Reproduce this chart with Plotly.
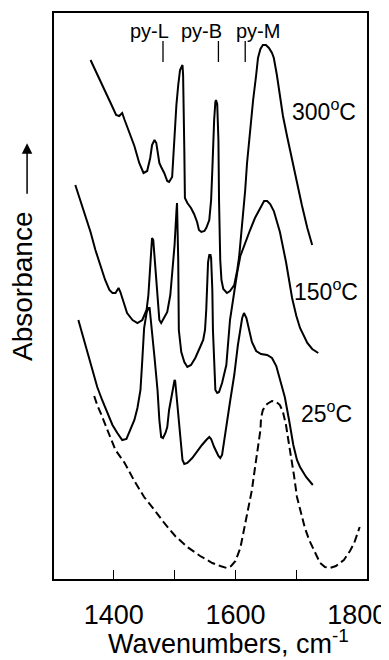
import plotly.graph_objects as go

# ---- data (wavenumber in cm-1, absorbance in arbitrary offset units) ----
wn_300 = [1362, 1373, 1385, 1395, 1404, 1409, 1414, 1418, 1426, 1434, 1442, 1449, 1455, 1460, 1463,
          1467, 1470, 1472, 1475, 1478, 1483, 1488, 1491, 1496, 1500, 1503, 1506, 1509, 1513, 1514,
          1516, 1517, 1521, 1527, 1532, 1537, 1540, 1544, 1549, 1552, 1557, 1560, 1562, 1563, 1565,
          1567, 1568, 1570, 1572, 1573, 1575, 1577, 1580, 1586, 1591, 1598, 1603, 1606, 1611, 1616,
          1619, 1624, 1629, 1634, 1637, 1641, 1645, 1650, 1655, 1660, 1663, 1668, 1673, 1678, 1685,
          1693, 1701, 1709, 1718, 1726]
ab_300 = [5.19, 5.04, 4.89, 4.76, 4.64, 4.63, 4.66, 4.59, 4.46, 4.33, 4.16, 4.06, 4.08, 4.21, 4.34,
          4.39, 4.36, 4.29, 4.16, 4.12, 4.06, 3.98, 3.97, 4.02, 4.44, 4.74, 4.94, 5.09, 5.14, 5.04,
          4.29, 3.81, 3.76, 3.71, 3.65, 3.57, 3.49, 3.47, 3.48, 3.51, 3.59, 3.79, 4.09, 4.34, 4.59,
          4.77, 4.79, 4.75, 4.39, 3.79, 3.19, 2.99, 2.90, 2.86, 2.88, 2.94, 3.09, 3.22, 3.54, 3.89,
          4.16, 4.49, 4.79, 5.04, 5.21, 5.30, 5.34, 5.34, 5.31, 5.26, 5.21, 5.04, 4.83, 4.63, 4.42,
          4.19, 3.97, 3.74, 3.51, 3.34]

wn_150 = [1337, 1345, 1354, 1362, 1370, 1378, 1386, 1393, 1398, 1403, 1408, 1411, 1416, 1422, 1431,
          1439, 1447, 1454, 1457, 1460, 1463, 1465, 1468, 1472, 1475, 1478, 1483, 1488, 1493, 1496,
          1500, 1503, 1504, 1506, 1507, 1511, 1516, 1521, 1527, 1534, 1539, 1542, 1547, 1550, 1552,
          1554, 1555, 1557, 1559, 1560, 1562, 1563, 1565, 1567, 1570, 1573, 1578, 1585, 1591, 1598,
          1603, 1608, 1616, 1624, 1632, 1641, 1647, 1652, 1657, 1663, 1673, 1683, 1693, 1700, 1706,
          1718, 1726, 1736]
ab_150 = [3.94, 3.79, 3.64, 3.47, 3.29, 3.14, 2.99, 2.89, 2.86, 2.86, 2.91, 2.87, 2.77, 2.66, 2.59,
          2.56, 2.59, 2.69, 2.84, 3.19, 3.41, 3.39, 3.14, 2.79, 2.59, 2.56, 2.61, 2.67, 2.84, 3.04,
          3.34, 3.67, 3.76, 3.19, 2.49, 2.27, 2.17, 2.12, 2.14, 2.21, 2.27, 2.32, 2.39, 2.49, 2.69,
          2.99, 3.17, 3.24, 3.24, 3.21, 2.89, 2.49, 2.09, 1.89, 1.86, 1.87, 1.96, 2.14, 2.59, 2.89,
          3.07, 3.23, 3.37, 3.49, 3.61, 3.72, 3.78, 3.78, 3.75, 3.68, 3.47, 3.17, 2.81, 2.63, 2.51,
          2.36, 2.30, 2.26]

wn_25 = [1342, 1349, 1357, 1365, 1373, 1381, 1390, 1398, 1406, 1414, 1421, 1427, 1434, 1439, 1444,
         1447, 1450, 1454, 1457, 1459, 1462, 1467, 1472, 1475, 1478, 1481, 1485, 1488, 1491, 1495,
         1498, 1500, 1501, 1504, 1508, 1511, 1513, 1516, 1521, 1529, 1537, 1545, 1552, 1557, 1560,
         1565, 1572, 1575, 1578, 1582, 1585, 1591, 1598, 1604, 1611, 1614, 1618, 1622, 1627, 1634,
         1642, 1652, 1660, 1667, 1673, 1681, 1688, 1695, 1701, 1706, 1716, 1727]
ab_25 = [2.59, 2.44, 2.26, 2.09, 1.92, 1.79, 1.66, 1.54, 1.46, 1.39, 1.40, 1.49, 1.59, 1.71, 1.89,
         2.19, 2.51, 2.66, 2.71, 2.71, 2.54, 2.22, 1.89, 1.59, 1.42, 1.41, 1.46, 1.52, 1.69, 1.84,
         1.96, 1.99, 1.98, 1.79, 1.54, 1.34, 1.19, 1.15, 1.16, 1.21, 1.28, 1.34, 1.39, 1.42, 1.40,
         1.32, 1.23, 1.21, 1.24, 1.39, 1.54, 1.77, 2.04, 2.34, 2.61, 2.66, 2.61, 2.49, 2.37, 2.28,
         2.25, 2.24, 2.21, 2.13, 1.99, 1.82, 1.59, 1.34, 1.19, 1.12, 1.02, 0.94]

wn_ref = [1368, 1373, 1380, 1386, 1393, 1403, 1418, 1434, 1450, 1467, 1483, 1501, 1521, 1542, 1562,
          1575, 1586, 1593, 1600, 1608, 1614, 1621, 1627, 1632, 1636, 1641, 1642, 1645, 1652, 1660,
          1667, 1673, 1678, 1683, 1686, 1691, 1696, 1701, 1706, 1714, 1721, 1731, 1739, 1747, 1755,
          1765, 1778, 1788, 1795, 1804]
ab_ref = [1.83, 1.74, 1.64, 1.54, 1.44, 1.29, 1.16, 0.98, 0.82, 0.69, 0.56, 0.43, 0.32, 0.23, 0.16,
          0.13, 0.11, 0.13, 0.18, 0.31, 0.49, 0.69, 0.89, 1.11, 1.29, 1.49, 1.61, 1.69, 1.75, 1.78,
          1.77, 1.74, 1.67, 1.54, 1.42, 1.24, 1.04, 0.82, 0.69, 0.51, 0.39, 0.26, 0.16, 0.12, 0.11,
          0.13, 0.19, 0.28, 0.36, 0.52]

band_names = ["py-L", "py-B", "py-M"]
band_pos = [1481, 1572, 1616]
band_label_x = [1459, 1545, 1637]

temp_labels = ["300<sup>o</sup>C", "150<sup>o</sup>C", "25<sup>o</sup>C"]
temp_label_x = [1690, 1693, 1704]
temp_label_y = [4.69, 2.89, 1.67]

x_tick_vals = [1400, 1500, 1600, 1700]
x_label_vals = [1400, 1600, 1800]
x_range = [1302, 1816]
y_range = [0, 5.66]

FONT = "Liberation Sans, Arial, sans-serif"

fig = go.Figure()
line = dict(color="black", width=2)
for xs, ys in [(wn_300, ab_300), (wn_150, ab_150), (wn_25, ab_25)]:
    fig.add_trace(go.Scatter(x=xs, y=ys, mode="lines", line=line, showlegend=False,
                             hoverinfo="skip"))
fig.add_trace(go.Scatter(x=wn_ref, y=ab_ref, mode="lines", xaxis="x2",
                         line=dict(color="black", width=2, dash="8px,4px"),
                         showlegend=False, hoverinfo="skip"))

shapes = []
for p in band_pos:
    shapes.append(dict(type="line", xref="x", yref="y", x0=p, x1=p, y0=5.17, y1=5.38,
                       line=dict(color="black", width=1.3)))

annotations = []
for name, lx in zip(band_names, band_label_x):
    annotations.append(dict(x=lx, y=5.48, xref="x", yref="y", text=name, showarrow=False,
                            xanchor="center", yanchor="middle",
                            font=dict(family=FONT, size=20, color="black")))
for t, tx, ty in zip(temp_labels, temp_label_x, temp_label_y):
    annotations.append(dict(x=tx, y=ty, xref="x", yref="y", text=t, showarrow=False,
                            xanchor="left", yanchor="middle",
                            font=dict(family=FONT, size=23, color="black")))
annotations.append(dict(x=0.559, y=-0.111, xref="paper", yref="paper",
                        text="Wavenumbers, cm<sup>-1</sup>", showarrow=False,
                        xanchor="center", yanchor="middle",
                        font=dict(family=FONT, size=27, color="black")))
annotations.append(dict(x=-0.099, y=0.516, xref="paper", yref="paper", text="Absorbance",
                        textangle=-90, showarrow=False, xanchor="center", yanchor="middle",
                        font=dict(family=FONT, size=28, color="black")))
annotations.append(dict(x=-0.086, y=0.770, xref="paper", yref="paper", text="",
                        showarrow=True, ax=0, ay=52, axref="pixel", ayref="pixel",
                        arrowhead=2, arrowsize=1.4, arrowwidth=1.5, arrowcolor="black"))

# page body has an 8px margin, so the figure is sized/padded to compensate
fig.update_layout(
    width=381, height=652,
    margin=dict(l=46, r=22, t=5, b=81, autoexpand=False),
    paper_bgcolor="white", plot_bgcolor="white",
    font=dict(family=FONT, color="black"),
    shapes=shapes, annotations=annotations,
    xaxis=dict(range=x_range, tickmode="array", tickvals=x_tick_vals,
               showticklabels=False, ticks="inside", ticklen=9, tickwidth=1.3,
               tickcolor="black", showline=True, linecolor="black", linewidth=1.5,
               mirror=True, showgrid=False, zeroline=False, automargin=False),
    xaxis2=dict(range=x_range, overlaying="x", side="bottom", tickmode="array",
                tickvals=x_label_vals, ticktext=[str(v) for v in x_label_vals],
                ticks="", showline=False, showgrid=False, zeroline=False,
                ticklabelstandoff=17, automargin=False,
                tickfont=dict(family=FONT, size=27, color="black")),
    yaxis=dict(range=y_range, showticklabels=False, ticks="", showline=True,
               linecolor="black", linewidth=1.5, mirror=True, showgrid=False,
               zeroline=False, automargin=False),
)

fig.write_html("out.html")
